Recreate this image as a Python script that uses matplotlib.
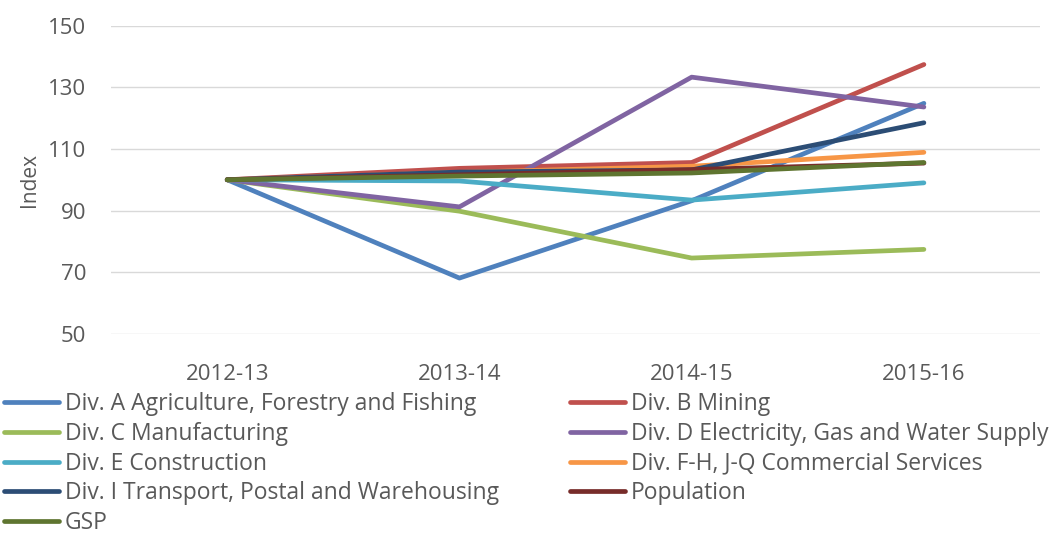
import matplotlib.pyplot as plt
import numpy as np

years = ["2012-13", "2013-14", "2014-15", "2015-16"]

div_a = [100, 68.1, 93.2, 124.8]
div_b = [100, 103.7, 105.6, 137.4]
div_c = [100, 89.8, 74.6, 77.4]
div_d = [100, 91.2, 133.3, 123.6]
div_e = [100, 99.6, 93.4, 99.0]
div_fh = [100, 102.4, 104.4, 108.9]
div_i = [100, 102.5, 103.2, 118.5]
population = [100, 101.6, 103.3, 105.4]
gsp = [100, 101.2, 102.2, 105.6]

labels = [
    "Div. A Agriculture, Forestry and Fishing",
    "Div. B Mining",
    "Div. C Manufacturing",
    "Div. D Electricity, Gas and Water Supply",
    "Div. E Construction",
    "Div. F-H, J-Q Commercial Services",
    "Div. I Transport, Postal and Warehousing",
    "Population",
    "GSP",
]
series = [div_a, div_b, div_c, div_d, div_e, div_fh, div_i, population, gsp]
colors = ["#4F81BD", "#C0504D", "#9BBB59", "#8064A2", "#4BACC6",
          "#F79646", "#2C4D75", "#772C2A", "#5F7530"]

plt.rcParams["font.family"] = ["Open Sans", "DejaVu Sans"]
TEXT = "#595959"

fig = plt.figure(figsize=(10.58, 5.35), dpi=100)
ax = fig.add_axes([0.105, 0.376, 0.878, 0.576])

x = np.arange(len(years))
handles = []
for vals, lab, col in zip(series, labels, colors):
    (h,) = ax.plot(x, vals, color=col, lw=3.4, label=lab, solid_capstyle="round")
    handles.append(h)

ax.set_xlim(-0.5, 3.5)
ax.set_ylim(50, 150)
ax.set_yticks([50, 70, 90, 110, 130, 150])
ax.set_xticks(x, years)
ax.grid(axis="y", color="#d9d9d9", linewidth=1.0)
ax.set_axisbelow(True)
for s in ax.spines.values():
    s.set_visible(False)
ax.tick_params(axis="both", length=0, colors=TEXT, labelsize=16)
ax.tick_params(axis="y", pad=18)
ax.tick_params(axis="x", pad=22)
ax.set_ylabel("Index", color=TEXT, fontsize=15, labelpad=6)

# legend rows read left to right: reorder so column-first fill matches
order = [0, 2, 4, 6, 8, 1, 3, 5, 7]
fig.legend([handles[i] for i in order], [labels[i] for i in order],
           loc="upper left", bbox_to_anchor=(0.004, 0.267), ncol=2,
           frameon=False, fontsize=16.5, labelcolor=TEXT, handlelength=2.4,
           handletextpad=0.25, columnspacing=3.1, labelspacing=0.25,
           borderaxespad=0.0, borderpad=0.0)

fig.savefig("out.png", dpi=100)
